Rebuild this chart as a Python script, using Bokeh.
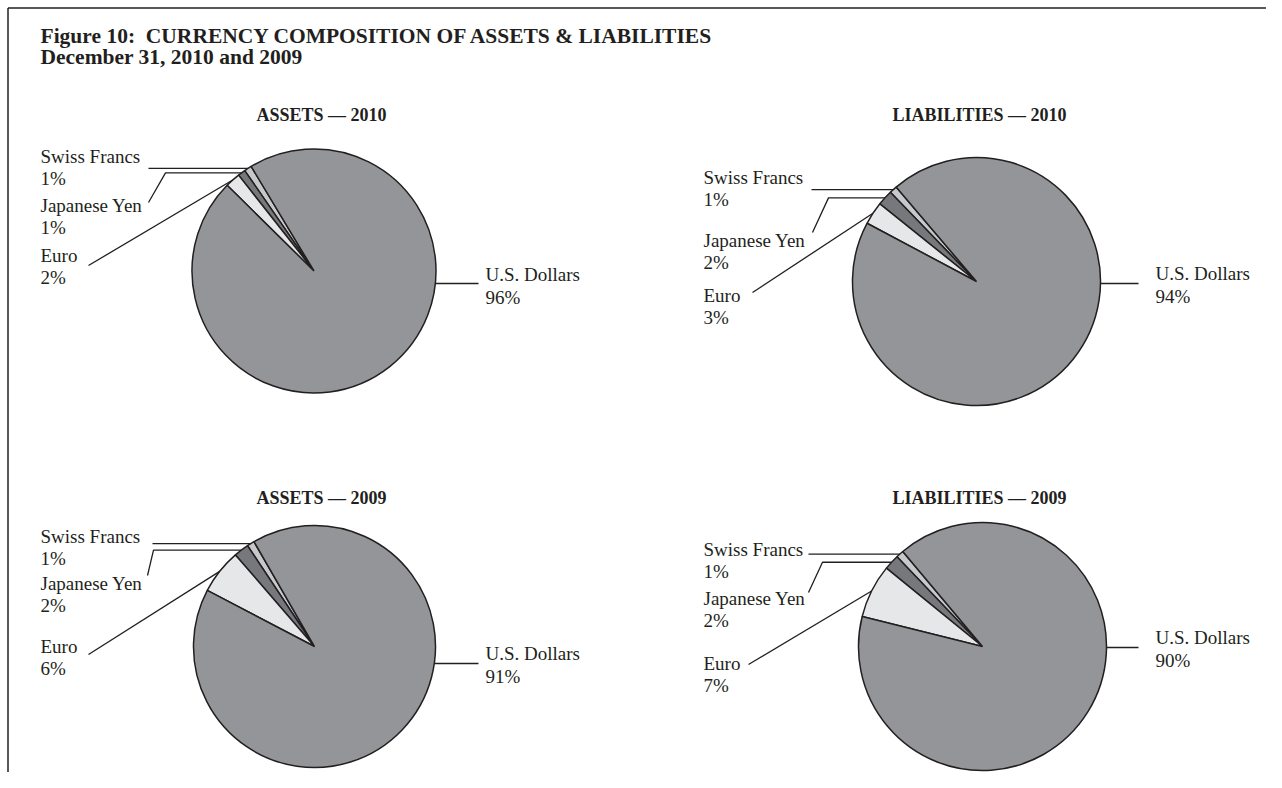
import numpy as np
from bokeh.plotting import figure
from bokeh.models import Range1d
from bokeh.core.properties import value
from bokeh.embed import file_html
from bokeh.resources import INLINE

# ---------------- data ----------------
currencies = ["U.S. Dollars", "Euro", "Japanese Yen", "Swiss Francs"]
assets_2010 = [96, 2, 1, 1]
liabilities_2010 = [94, 3, 2, 1]
assets_2009 = [91, 6, 2, 1]
liabilities_2009 = [90, 7, 2, 1]
pie_titles = ["ASSETS \u2014 2010", "LIABILITIES \u2014 2010", "ASSETS \u2014 2009", "LIABILITIES \u2014 2009"]
title_line1 = "Figure 10:\u00a0 CURRENCY COMPOSITION OF ASSETS & LIABILITIES"
title_line2 = "December 31, 2010 and 2009"

# ---------------- styles ----------------
colors = ["#939598", "#e6e7e8", "#77787b", "#c7c8ca"]
EDGE = "#231f20"
TXT = "#231f20"
SERIF = value("Liberation Serif")
TDY = -5  # text vertical correction

W, H = 1266, 772
p = figure(width=W, height=H, output_backend="svg", toolbar_location=None,
           x_range=Range1d(0, W), y_range=Range1d(-H, 0),
           x_axis_location=None, y_axis_location=None, min_border=0,
           background_fill_color="white", border_fill_color="white")
p.outline_line_color = None
p.grid.visible = False

def Y(sy):
    return -sy

def TY(sy):
    return -(sy + TDY)

# frame lines (top and left)
p.line([7.5, W], [Y(7.5), Y(7.5)], line_color=EDGE, line_width=1.5)
p.line([7.5, 7.5], [Y(7.5), Y(H)], line_color=EDGE, line_width=1.5)

# main title
p.text([40], [TY(40)], text=[title_line1], text_font=SERIF, text_font_size="21.5px",
       text_font_style="bold", text_color=TXT, text_baseline="alphabetic")
p.text([40], [TY(61)], text=[title_line2], text_font=SERIF, text_font_size="21.5px",
       text_font_style="bold", text_color=TXT, text_baseline="alphabetic")

# layout per pie (screen px)
layouts = [
    dict(vals=assets_2010, c=(313.5, 270.5), r=122, a0=121, tx=321, ty=119,
         lx=40, b=[161, 210, 260], ux=485, ub=279, uy=283, uend=478,
         sw_x=148, yen_s=(148, 202), yen_e=165, eu_s=(88, 265)),
    dict(vals=liabilities_2010, c=(976, 281), r=124, a0=130.4, tx=979, ty=119,
         lx=703, b=[182, 245, 300], ux=1155, ub=278, uy=283, uend=1138,
         sw_x=811, yen_s=(812, 232), yen_e=828, eu_s=(752, 292)),
    dict(vals=assets_2009, c=(314, 646), r=121, a0=120, tx=321, ty=502,
         lx=40, b=[540.5, 588, 650.5], ux=485, ub=658, uy=663, uend=478,
         sw_x=152, yen_s=(147, 575), yen_e=153, eu_s=(88, 654)),
    dict(vals=liabilities_2009, c=(982, 646), r=124, a0=130, tx=979, ty=502,
         lx=703, b=[554, 603, 668], ux=1155, ub=642, uy=647, uend=1138,
         sw_x=808, yen_s=(808, 592), yen_e=822, eu_s=(748, 664)),
]

for i, L in enumerate(layouts):
    vals = np.array(L["vals"], dtype=float)
    frac = vals / vals.sum()
    cx, cy = L["c"]
    r = L["r"]
    # counter-clockwise order from a0: Swiss, Yen, Euro, USD
    order = [3, 2, 1, 0]
    ang = np.deg2rad(L["a0"])
    starts, ends, mids = {}, {}, {}
    for k in order:
        span = frac[k] * 2 * np.pi
        starts[k] = ang
        ends[k] = ang + span
        mids[k] = ang + span / 2
        ang += span
    p.wedge(x=[cx] * 4, y=[Y(cy)] * 4, radius=r,
            start_angle=[starts[k] for k in order], end_angle=[ends[k] for k in order],
            fill_color=[colors[k] for k in order], line_color=EDGE, line_width=1.5,
            direction="anticlock")

    # pie title
    p.text([L["tx"]], [TY(L["ty"])], text=[pie_titles[i]], text_font=SERIF,
           text_font_size="18px", text_font_style="bold", text_color=TXT,
           text_align="center", text_baseline="alphabetic")

    # left labels: Swiss, Yen, Euro
    for k, b in zip([3, 2, 1], L["b"]):
        p.text([L["lx"], L["lx"]], [TY(b), TY(b + 22)],
               text=[currencies[k], f"{L['vals'][k]}%"], text_font=SERIF,
               text_font_size="19px", text_color=TXT, text_baseline="alphabetic")
    # USD label
    p.text([L["ux"], L["ux"]], [TY(L["ub"]), TY(L["ub"] + 22.5)],
           text=[currencies[0], f"{L['vals'][0]}%"], text_font=SERIF,
           text_font_size="19px", text_color=TXT, text_baseline="alphabetic")

    def pt(a):
        return cx + r * np.cos(a), cy - r * np.sin(a)

    # Swiss leader (horizontal)
    px, py = pt(mids[3])
    p.line([L["sw_x"], px], [Y(py), Y(py)], line_color=EDGE, line_width=1.3)
    # Yen leader (elbow)
    px, py = pt(mids[2])
    sx, sy = L["yen_s"]
    p.line([sx, L["yen_e"], px], [Y(sy), Y(py), Y(py)], line_color=EDGE, line_width=1.3)
    # Euro leader (diagonal)
    px, py = pt(mids[1])
    sx, sy = L["eu_s"]
    p.line([sx, px], [Y(sy), Y(py)], line_color=EDGE, line_width=1.3)
    # USD leader (horizontal to right)
    dy = L["uy"] - cy
    ex = cx + np.sqrt(r * r - dy * dy)
    p.line([ex, L["uend"]], [Y(L["uy"]), Y(L["uy"])], line_color=EDGE, line_width=1.3)

open("out.html", "w").write(file_html(p, INLINE))
